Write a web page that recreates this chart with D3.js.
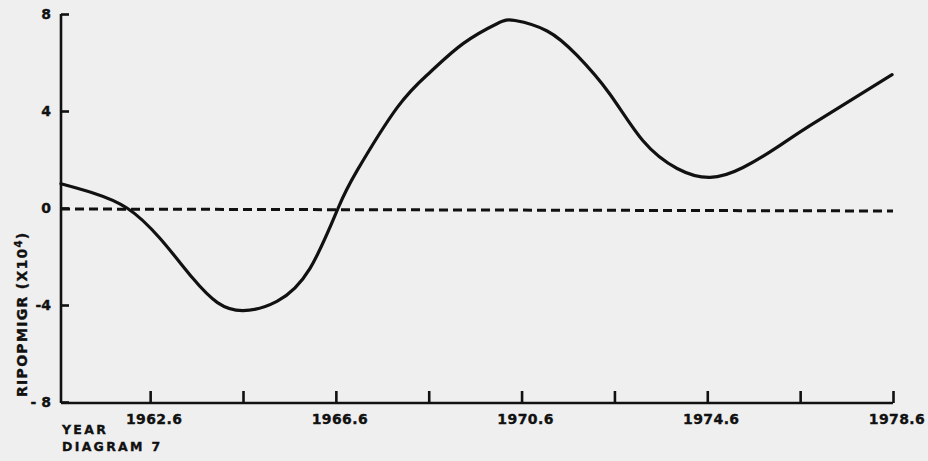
<!DOCTYPE html>
<html><head><meta charset="utf-8">
<script src="https://cdn.jsdelivr.net/npm/d3@7"></script>
<style>
html,body{margin:0;padding:0;background:#efefef;}
svg{display:block;}
text{font-family:"DejaVu Sans",sans-serif;font-weight:bold;fill:#111;stroke:#111;stroke-width:0.35px;}
</style></head>
<body>
<script>
// Data
const years = [1960.68,1961.37,1962.10,1962.81,1963.52,1964.05,1964.60,1965.33,1966.04,1966.65,1967.06,1967.92,1968.63,1969.34,1970.07,1970.46,1971.15,1971.79,1972.50,1973.21,1973.95,1974.66,1975.37,1976.10,1976.81,1978.58];
const ripopmigr = [1.0,0.62,0.0,-1.25,-2.9,-3.9,-4.23,-3.85,-2.5,0.0,1.55,4.14,5.6,6.78,7.6,7.73,7.3,6.3,4.7,2.78,1.63,1.26,1.67,2.5,3.4,5.5];
const xTicks = [1962.6,1964.6,1966.6,1968.6,1970.6,1972.6,1974.6,1976.6,1978.6];
const xTickLabels = ["1962.6","","1966.6","","1970.6","","1974.6","","1978.6"];
const yTicks = [8,4,0,-4,-8];
const yTickLabels = ["8","4","0","-4","- 8"];
const xDomain = [1960.68, 1978.6];
const yDomain = [-8, 8];

const W = 928, H = 461;
const svg = d3.select("body").append("svg").attr("width",W).attr("height",H);
svg.append("rect").attr("width",W).attr("height",H).attr("fill","#efefef");

const x = d3.scaleLinear().domain(xDomain).range([61, 893]);
const y = d3.scaleLinear().domain(yDomain).range([402, 14]);

// zero dashed line
svg.append("line")
  .attr("x1", x(xDomain[0])).attr("x2", x(xDomain[1]))
  .attr("y1", y(0)+1).attr("y2", y(0)+3)
  .attr("stroke","#111").attr("stroke-width",3)
  .attr("stroke-dasharray","9,5");

// y axis
const yAxis = d3.axisRight(y).tickValues(yTicks).tickSize(8).tickFormat("");
const gy = svg.append("g").attr("transform",`translate(${x(xDomain[0])},0)`).call(yAxis);
gy.select(".domain").attr("stroke","#111").attr("stroke-width",2.6).attr("d",`M0,${y(8)}V${y(-8)+1}`);
gy.selectAll(".tick line").attr("stroke","#111").attr("stroke-width",2.6);
svg.selectAll(".ylab").data(yTicks).enter().append("text")
  .attr("class","ylab")
  .attr("x",51).attr("y",d=>y(d)+5)
  .attr("text-anchor","end").attr("font-size",14)
  .text((d,i)=>yTickLabels[i]);

// x axis
const xAxis = d3.axisTop(x).tickValues(xTicks).tickSize(12).tickFormat("");
const gx = svg.append("g").attr("transform",`translate(0,${y(-8)+1})`).call(xAxis);
gx.select(".domain").attr("stroke","#111").attr("stroke-width",2.6).attr("d",`M${x(xDomain[0])},0H${x(xDomain[1])}`);
gx.selectAll(".tick line").attr("stroke","#111").attr("stroke-width",2.6);
svg.selectAll(".xlab").data(xTicks).enter().append("text")
  .attr("class","xlab")
  .attr("x",d=>x(d)+4).attr("y",424)
  .attr("text-anchor","middle").attr("font-size",14).attr("letter-spacing",0.4)
  .text((d,i)=>xTickLabels[i]);

// curve
const pts = years.map((yr,i)=>[yr, ripopmigr[i]]);
svg.append("path").datum(pts)
  .attr("fill","none").attr("stroke","#111").attr("stroke-width",3.2)
  .attr("stroke-linecap","round")
  .attr("d", d3.line().x(d=>x(d[0])).y(d=>y(d[1])).curve(d3.curveNatural));

// axis title (rotated)
const t = svg.append("text")
  .attr("transform","translate(27,397) rotate(-90)")
  .attr("font-size",14).attr("letter-spacing",1.3);
t.append("tspan").text("RIPOPMIGR (X10");
t.append("tspan").attr("font-size",10).attr("dy",-5).text("4");
t.append("tspan").attr("dy",5).text(")");

svg.append("text").attr("x",62).attr("y",434).attr("font-size",12.5).attr("letter-spacing",2.3).text("YEAR");
svg.append("text").attr("x",62).attr("y",451).attr("font-size",12.5).attr("letter-spacing",2.3).text("DIAGRAM 7");
</script>
</body></html>
